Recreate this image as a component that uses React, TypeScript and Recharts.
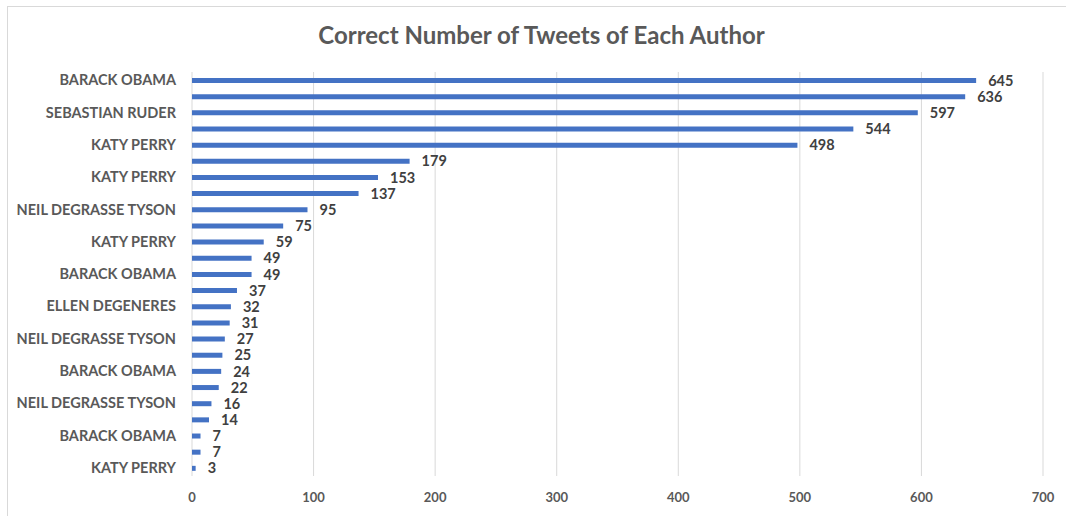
import React from "react";
import { BarChart, Bar, XAxis, YAxis, CartesianGrid, LabelList } from "recharts";

const authors: string[] = [
  "BARACK OBAMA",
  "KATY PERRY",
  "SEBASTIAN RUDER",
  "ELLEN DEGENERES",
  "KATY PERRY",
  "BARACK OBAMA",
  "KATY PERRY",
  "SEBASTIAN RUDER",
  "NEIL DEGRASSE TYSON",
  "ELLEN DEGENERES",
  "KATY PERRY",
  "SEBASTIAN RUDER",
  "BARACK OBAMA",
  "NEIL DEGRASSE TYSON",
  "ELLEN DEGENERES",
  "KATY PERRY",
  "NEIL DEGRASSE TYSON",
  "ELLEN DEGENERES",
  "BARACK OBAMA",
  "SEBASTIAN RUDER",
  "NEIL DEGRASSE TYSON",
  "KATY PERRY",
  "BARACK OBAMA",
  "ELLEN DEGENERES",
  "KATY PERRY",
];

const correctTweets: number[] = [
  645, 636, 597, 544, 498, 179, 153, 137, 95, 75, 59, 49, 49, 37, 32, 31, 27, 25, 24, 22, 16, 14, 7, 7, 3,
];

const xTicks: number[] = [0, 100, 200, 300, 400, 500, 600, 700];

const title = "Correct Number of Tweets of Each Author";

const rows = authors.map((author, i) => ({ author, tweets: correctTweets[i] }));

const FONT = "Lato, 'Open Sans', sans-serif";

export default function App() {
  return (
    <div
      style={{
        position: "absolute",
        left: 0,
        top: 0,
        width: 1066,
        height: 516,
        background: "#ffffff",
        overflow: "hidden",
        fontFamily: FONT,
      }}
    >
      <div
        style={{
          position: "absolute",
          left: 7,
          top: 6,
          width: 1100,
          height: 560,
          borderTop: "1px solid #d9d9d9",
          borderLeft: "1px solid #d9d9d9",
        }}
      />
      <div
        style={{
          position: "absolute",
          left: 0,
          top: 20,
          width: 1083,
          textAlign: "center",
          fontSize: 24,
          fontWeight: 700,
          color: "#595959",
          lineHeight: "30px",
        }}
      >
        {title}
      </div>
      <div style={{ position: "absolute", left: 0, top: 0 }}>
        <BarChart
          width={1066}
          height={516}
          data={rows}
          layout="vertical"
          margin={{ top: 72, right: 23, bottom: 10, left: 0 }}
          barCategoryGap={0}
        >
          <CartesianGrid horizontal={false} stroke="#d9d9d9" strokeWidth={1} />
          <XAxis
            type="number"
            domain={[0, 700]}
            ticks={xTicks}
            axisLine={false}
            tickLine={false}
            height={30}
            tickMargin={11}
            tick={{ fill: "#595959", fontSize: 13, fontWeight: 700, fontFamily: FONT }}
          />
          <YAxis
            type="category"
            dataKey="author"
            width={192}
            interval={1}
            axisLine={false}
            tickLine={false}
            tickSize={0}
            tickMargin={16}
            tick={{ fill: "#595959", fontSize: 14.5, fontWeight: 700, fontFamily: FONT }}
          />
          <Bar dataKey="tweets" fill="#4472c4" barSize={5} isAnimationActive={false}>
            <LabelList
              dataKey="tweets"
              position="right"
              offset={12}
              fill="#404040"
              fontSize={14.5}
              fontWeight={700}
              fontFamily={FONT}
            />
          </Bar>
        </BarChart>
      </div>
    </div>
  );
}
